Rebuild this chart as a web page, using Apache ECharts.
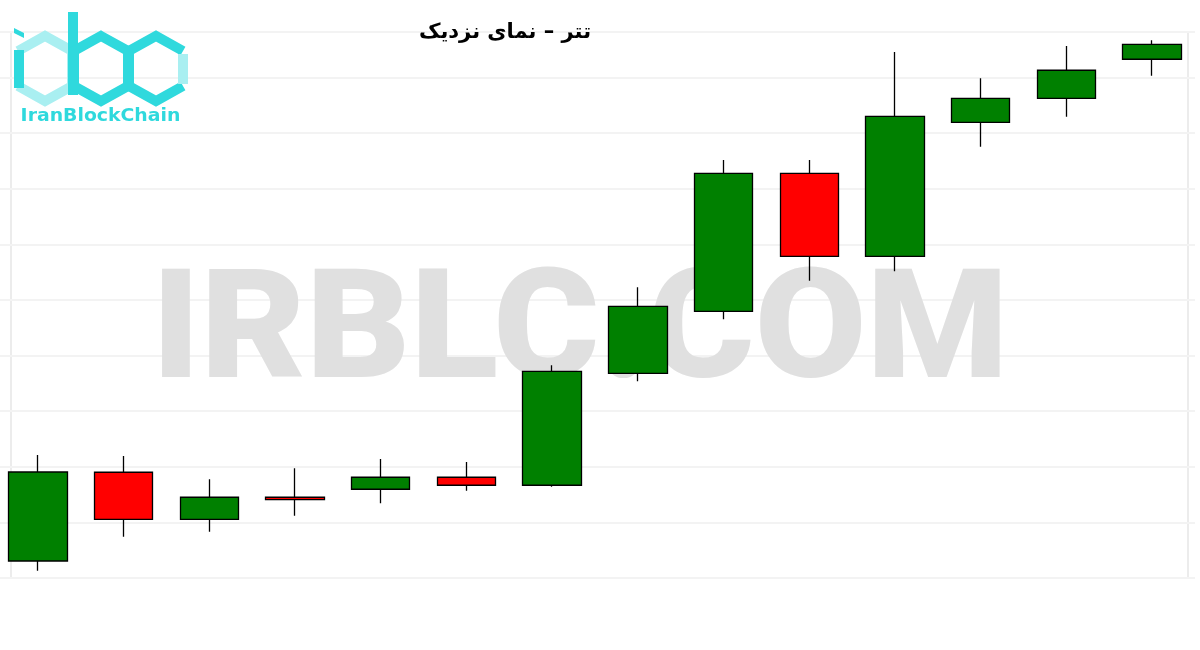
<!DOCTYPE html>
<html>
<head>
<meta charset="utf-8">
<script src="https://cdn.jsdelivr.net/npm/echarts@6/dist/echarts.min.js"></script>
<style>
html,body{margin:0;padding:0;background:#fff;}
#chart{width:1200px;height:650px;}
</style>
</head>
<body>
<div id="chart"></div>
<script>
// Data (arbitrary price units)
const titleText = 'تتر – نمای نزدیک';
const watermarkText = 'IRBLC.COM';
const logoText = 'IranBlockChain';
const categories = ['1','2','3','4','5','6','7','8','9','10','11','12','13','14'];
const openValues  = [15.3, 95.1, 52.8, 72.6, 79.8, 90.6, 83.4, 184.1, 239.8, 363.9, 289.3, 409.8, 431.4, 466.5];
const closeValues = [95.3, 52.8, 72.6, 70.4, 90.6, 83.4, 185.9, 244.3, 363.9, 289.3, 415.2, 431.4, 456.6, 479.9];
const lowValues   = [6.6, 37.1, 41.6, 56.0, 67.2, 78.5, 82.1, 176.9, 232.6, 267.4, 275.8, 387.9, 414.8, 451.7];
const highValues  = [110.6, 109.7, 88.8, 98.7, 107.0, 104.3, 191.3, 261.4, 375.9, 375.9, 473.0, 449.4, 478.4, 483.5];

const candleData = categories.map((c, i) => [openValues[i], closeValues[i], lowValues[i], highValues[i]]);

const chart = echarts.init(document.getElementById('chart'), null, {renderer: 'canvas'});

const dark = '#2fd9dd';
const light = '#a9eff1';
function hex(cx) {
  return [[cx, 36], [cx + 27, 51], [cx + 27, 86], [cx, 101], [cx - 27, 86], [cx - 27, 51]];
}
const lw = 10;

const graphics = [
  // plot frame
  {type: 'rect', z: 0, shape: {x: 11, y: 32, width: 1177, height: 546}, style: {fill: null, stroke: '#ececec', lineWidth: 2}, silent: true},
  // watermark
  {type: 'text', z: 1, x: 580, y: 339, scaleX: 1.065, style: {text: watermarkText, fill: '#e0e0e0', font: '900 152px Roboto', textAlign: 'center', textVerticalAlign: 'middle'}, silent: true},
  // title
  {type: 'text', z: 10, x: 505, y: 33, style: {text: titleText, fill: '#000', font: 'bold 21px "DejaVu Sans"', textAlign: 'center', textVerticalAlign: 'middle'}},
  // logo: left hexagon (light) with dark left side
  {type: 'polyline', z: 10, shape: {points: [hex(45)[4], hex(45)[3], hex(45)[2], hex(45)[1], hex(45)[0], hex(45)[5]]}, style: {stroke: light, lineWidth: lw, fill: null, lineJoin: 'miter'}},
  {type: 'polyline', z: 11, shape: {points: [[19, 50], [19, 88]]}, style: {stroke: dark, lineWidth: lw, fill: null}},
  {type: 'polygon', z: 11, shape: {points: [[14, 28], [24, 33], [24, 38], [14, 33]]}, style: {fill: dark}},
  // b
  {type: 'polyline', z: 11, shape: {points: [[73, 12], [73, 95]]}, style: {stroke: dark, lineWidth: lw, fill: null}},
  {type: 'polygon', z: 11, shape: {points: hex(101)}, style: {stroke: dark, lineWidth: lw, fill: null, lineJoin: 'miter'}},
  // c
  {type: 'polyline', z: 11, shape: {points: [hex(156)[2], hex(156)[3], hex(156)[4], hex(156)[5], hex(156)[0], hex(156)[1]]}, style: {stroke: dark, lineWidth: lw, fill: null, lineJoin: 'miter'}},
  {type: 'polyline', z: 11, shape: {points: [[183, 54], [183, 84]]}, style: {stroke: light, lineWidth: lw, fill: null}},
  // logo text
  {type: 'text', z: 11, x: 100.5, y: 116, scaleX: 1.077, style: {text: logoText, fill: dark, font: 'bold 17.5px "DejaVu Sans"', textAlign: 'center', textVerticalAlign: 'middle'}}
];

chart.setOption({
  backgroundColor: '#ffffff',
  animation: false,
  grid: {left: -5, right: 5, top: 32, bottom: 72, containLabel: false, outerBoundsMode: 'none'},
  xAxis: {
    type: 'category',
    data: categories,
    boundaryGap: true,
    axisLine: {show: false},
    axisTick: {show: false},
    axisLabel: {show: false},
    splitLine: {show: false}
  },
  yAxis: {
    type: 'value',
    min: 0,
    max: 491,
    interval: 50,
    axisLine: {show: false},
    axisTick: {show: false},
    axisLabel: {show: false},
    splitLine: {show: true, lineStyle: {color: '#f3f3f3', width: 2}}
  },
  graphic: graphics,
  series: [{
    type: 'candlestick',
    data: candleData,
    barWidth: 59,
    z: 5,
    itemStyle: {
      color: '#008000',
      color0: '#ff0000',
      borderColor: '#000000',
      borderColor0: '#000000',
      borderWidth: 1.3
    }
  }]
});
</script>
</body>
</html>
